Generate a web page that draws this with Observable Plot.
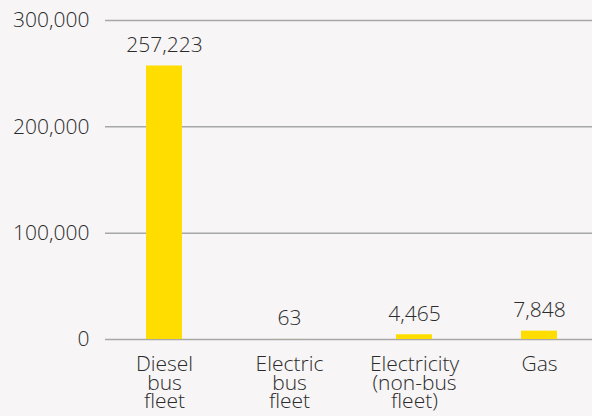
<!DOCTYPE html>
<html>
<head>
<meta charset="utf-8">
<script src="https://cdn.jsdelivr.net/npm/d3@7"></script>
<script src="https://cdn.jsdelivr.net/npm/@observablehq/plot@0.6"></script>
<style>
  html, body { margin: 0; padding: 0; background: #f7f5f6; }
  svg text { font-weight: 300; }
</style>
</head>
<body>
<div id="chart"></div>
<script>
const categories = ["Diesel\nbus\nfleet", "Electric\nbus\nfleet", "Electricity\n(non-bus\nfleet)", "Gas"];
const values = [257223, 63, 4465, 7848];
const yTicks = [0, 100000, 200000, 300000];

const data = categories.map((c, i) => ({category: c, value: values[i]}));
const fmt = d3.format(",");

const chart = Plot.plot({
  width: 592,
  height: 416,
  marginLeft: 105,
  marginRight: 0,
  marginTop: 20,
  marginBottom: 77,
  style: {background: "#f7f5f6", fontFamily: "'Open Sans', sans-serif", fontSize: "21px", color: "#2b2b2b"},
  x: {domain: categories, range: [144, 558], paddingInner: 0.714, paddingOuter: 0, axis: null, label: null},
  y: {domain: [0, 300000], axis: null, label: null},
  marks: [
    Plot.ruleY(yTicks, {stroke: "#a8a8a8", strokeWidth: 1.5}),
    Plot.barY(data, {x: "category", y: "value", fill: "#ffdd00"}),
    Plot.text(data, {x: "category", y: "value", text: d => fmt(d.value), dy: -14, lineAnchor: "bottom", fontSize: 21, fill: "#2b2b2b"}),
    Plot.axisY(yTicks, {tickSize: 0, tickPadding: 16, tickFormat: fmt, fontSize: 21, fill: "#2b2b2b", label: null}),
    Plot.axisX({tickSize: 0, tickPadding: 19, fontSize: 21, lineHeight: 0.87, fill: "#2b2b2b", label: null})
  ]
});
document.getElementById("chart").appendChild(chart);
</script>
</body>
</html>
